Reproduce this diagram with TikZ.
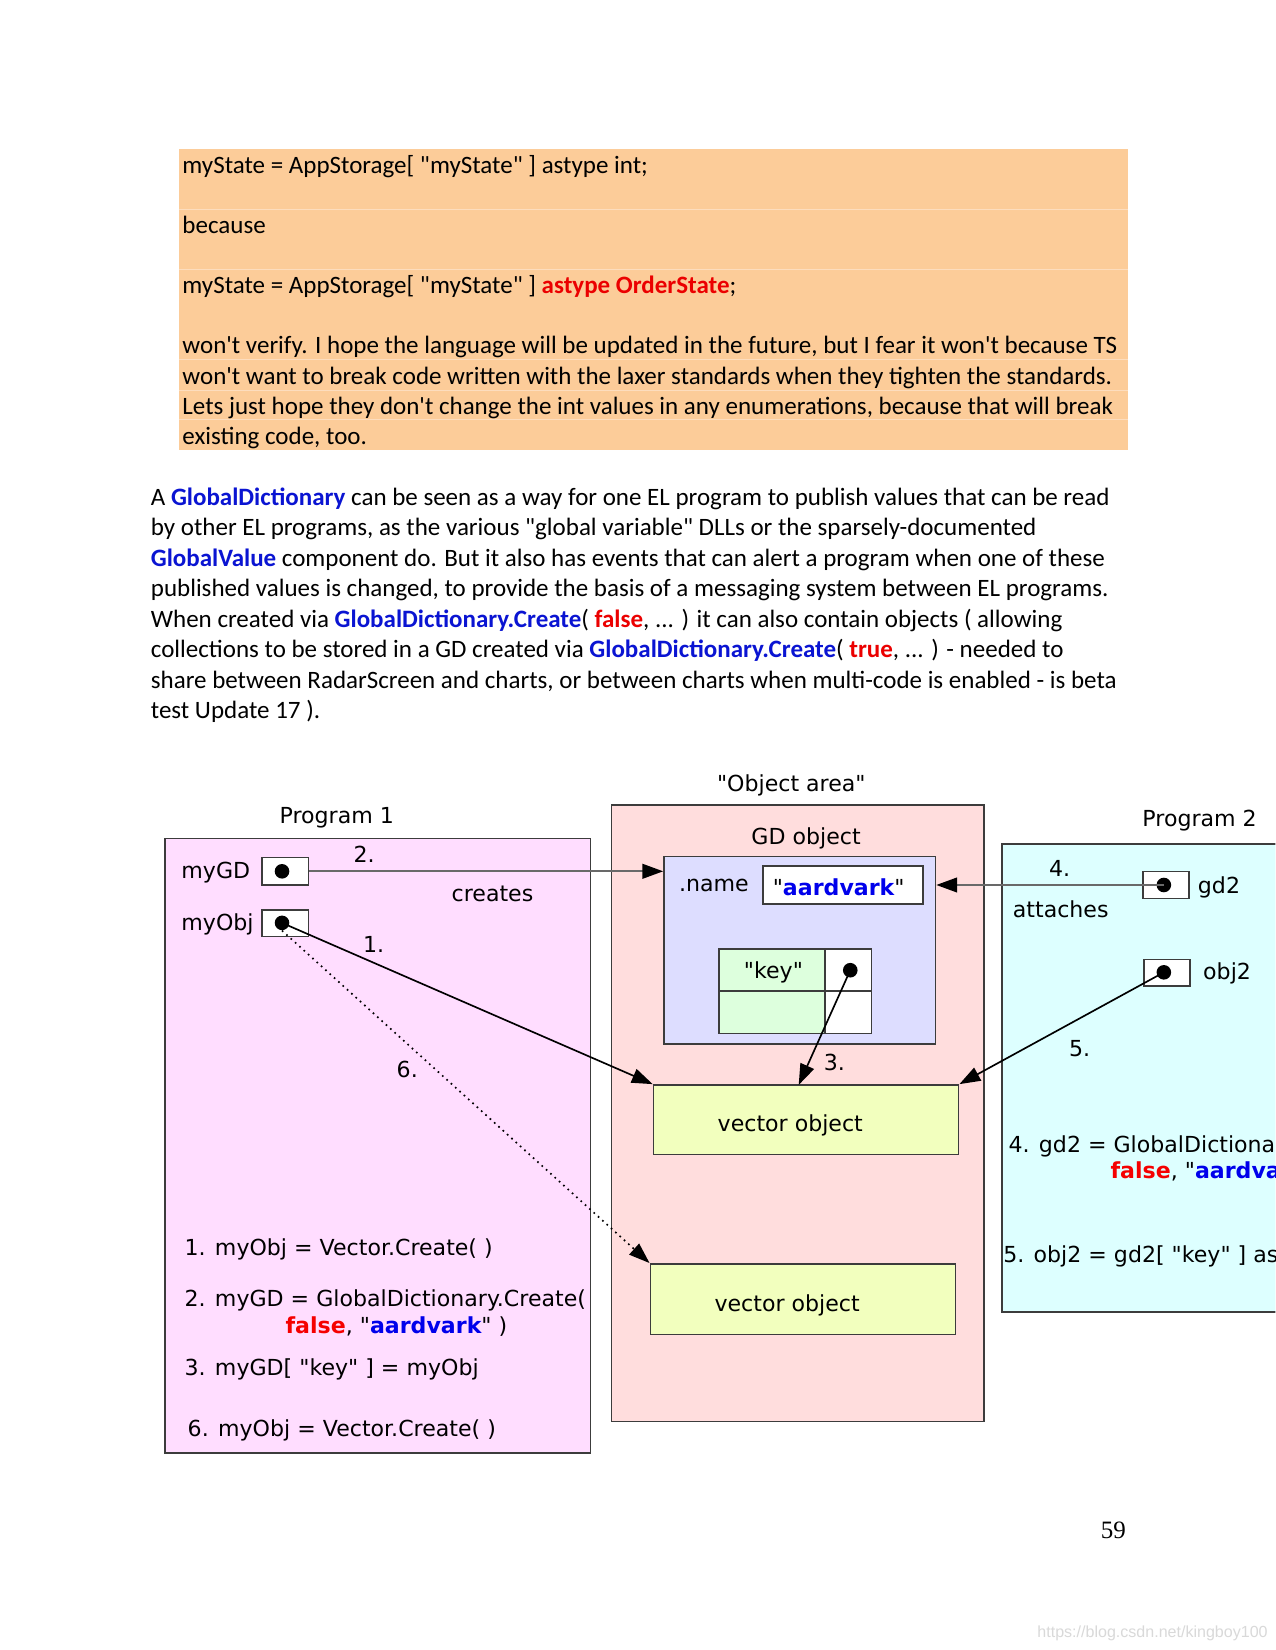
\documentclass[tikz,border=0pt]{standalone}
\usepackage{fontspec}
\defaultfontfeatures{Ligatures=TeXOff}
\setmainfont{Carlito}[Ligatures=TeXOff]
\newfontfamily\dv{DejaVu Sans}[Ligatures=TeXOff]
\newfontfamily\tms{Liberation Serif}
\newfontfamily\arl{Liberation Sans}
\usetikzlibrary{arrows.meta,fit,calc}
\definecolor{orbg}{RGB}{252,204,153}
\definecolor{orline}{RGB}{253,221,190}
\definecolor{pblue}{RGB}{10,20,210}
\definecolor{pred}{RGB}{235,0,0}
\definecolor{dblue}{RGB}{0,0,235}
\definecolor{dred}{RGB}{245,0,0}
\definecolor{p1c}{RGB}{255,221,255}
\definecolor{oac}{RGB}{255,221,221}
\definecolor{p2c}{RGB}{221,255,255}
\definecolor{gdc}{RGB}{221,221,255}
\definecolor{kc}{RGB}{221,255,221}
\definecolor{vc}{RGB}{242,255,190}
\definecolor{edge}{RGB}{60,60,60}
\definecolor{lgray}{RGB}{105,105,105}
\begin{document}
\begin{tikzpicture}[x=0.50495pt,y=-0.50495pt,
  body/.style={font=\fontsize{12}{14.4}\selectfont, inner sep=0, anchor=base west},
  dia/.style={font=\dv\fontsize{10.6}{12.7}\selectfont, inner sep=0},
  frame/.style={draw=edge, line width=0.75pt, inner sep=0},
  ptr/.style={frame, fill=white},
  dotn/.style={circle, fill=black, inner sep=0, minimum size=7pt},
  arr/.style={-{Triangle[length=10pt,width=7pt,color=black]}, line width=0.8pt, draw=black},
  arrg/.style={-{Triangle[length=10pt,width=7pt,color=black]}, line width=1.1pt, draw=lgray},
  arrd/.style={-{Triangle[length=10pt,width=7pt,color=black]}, line width=0.8pt, draw=black, dotted}]
\useasboundingbox (0,0) rectangle (1212,1568);
\clip (0,0) rectangle (1212,1568);
\fill[white] (0,0) rectangle (1212,1568);

% ---------- orange note ----------
\node[fit={(170,142)(1072,428)}, inner sep=0, fill=orbg] (note) {};
\foreach \yy in {199,256,342,371,399} \draw[orline, line width=0.4pt] (170,\yy) -- (1072,\yy);
\node[body] (n1) at (173,165) {myState = AppStorage[ "myState" ] astype int;};
\node[body] (n2) at (173,222) {because};
\node[body] (n3) at (173,279) {myState = AppStorage[ "myState" ] \textcolor{pred}{\bfseries astype OrderState};};
\node[body] (n4) at (173,336) {won't verify. I hope the language will be updated in the future, but I fear it won't because TS};
\node[body] (n5) at (173,365) {won't want to break code written with the laxer standards when they tighten the standards.};
\node[body] (n6) at (173,394) {Lets just hope they don't change the int values in any enumerations, because that will break};
\node[body] (n7) at (173,422) {existing code, too.};

% ---------- paragraph ----------
\node[body] (q1) at (143,480) {A \textcolor{pblue}{\bfseries GlobalDictionary} can be seen as a way for one EL program to publish values that can be read};
\node[body] (q2) at (143,509) {by other EL programs, as the various "global variable" DLLs or the sparsely-documented};
\node[body] (q3) at (143,538) {\textcolor{pblue}{\bfseries GlobalValue} component do. But it also has events that can alert a program when one of these};
\node[body] (q4) at (143,567) {published values is changed, to provide the basis of a messaging system between EL programs.};
\node[body] (q5) at (143,596) {When created via \textcolor{pblue}{\bfseries GlobalDictionary.Create}( \textcolor{pred}{\bfseries false}, ... ) it can also contain objects ( allowing};
\node[body] (q6) at (143,625) {collections to be stored in a GD created via \textcolor{pblue}{\bfseries GlobalDictionary.Create}( \textcolor{pred}{\bfseries true}, ... ) - needed to};
\node[body] (q7) at (143,654) {share between RadarScreen and charts, or between charts when multi-code is enabled - is beta};
\node[body] (q8) at (143,683) {test Update 17 ).};

% ---------- diagram frames ----------
\node[dia, anchor=base] (lobj) at (752,752) {"Object area"};
\node[dia, anchor=base] (lp1) at (320,783) {Program 1};
\node[dia, anchor=base] (lp2) at (1140,785) {Program 2};

\node[frame, fill=p1c, fit={(157,797)(561,1381)}] (p1) {};
\node[frame, fill=oac, fit={(581,765)(935,1351)}] (oa) {};
\node[frame, fill=p2c, fit={(952,802)(1250,1247)}] (p2) {};

% GD object
\node[dia, anchor=base] (lgd) at (766,803) {GD object};
\node[frame, fill=gdc, fit={(631,814)(889,992)}] (gd) {};
\node[dia, anchor=base west] (lname) at (645,847) {.name};
\node[ptr, fit={(725,823)(877,859)}] (nbox) {};
\node[dia, anchor=base] (nval) at (797,851) {"\textcolor{dblue}{\bfseries aardvark}"};
\node[frame, fill=kc, fit={(683,902)(784,942)}] (k1) {};
\node[frame, fill=white, fit={(784,902)(828,942)}] (k2) {};
\node[frame, fill=kc, fit={(683,942)(784,982)}] (k3) {};
\node[frame, fill=white, fit={(784,942)(828,982)}] (k4) {};
\node[dia, anchor=base] (lkey) at (735,930) {"key"};
\node[dotn] (kd) at (808,922) {};

% vector objects
\node[frame, fill=vc, fit={(621,1031)(911,1097)}] (v1) {};
\node[dia, anchor=base] (lv1) at (751,1075) {vector object};
\node[frame, fill=vc, fit={(618,1201)(908,1268)}] (v2) {};
\node[dia, anchor=base] (lv2) at (748,1246) {vector object};

% Program 1
\node[dia, anchor=base west] (lmygd) at (172,835) {myGD};
\node[ptr, fit={(249,815)(293,841)}] (gdp) {};
\node[dotn] (gdd) at (268,828) {};
\node[dia, anchor=base west] (lmyobj) at (172,884) {myObj};
\node[ptr, fit={(249,865)(293,890)}] (objp) {};
\node[dotn] (objd) at (268,877) {};

\node[dia, anchor=base] (l2) at (346,820) {2.};
\node[dia, anchor=base] (lcr) at (468,857) {creates};
\node[dia, anchor=base] (l1) at (355,905) {1.};
\node[dia, anchor=base] (l6) at (387,1024) {6.};
\node[dia, anchor=base] (l3) at (793,1017) {3.};

\node[dia, anchor=base west] (c1) at (175,1193) {1. myObj = Vector.Create( )};
\node[dia, anchor=base west] (c2) at (175,1242) {2. myGD = GlobalDictionary.Create(};
\node[dia, anchor=base west] (c2b) at (271,1267) {\textcolor{dred}{\bfseries false}, "\textcolor{dblue}{\bfseries aardvark}" )};
\node[dia, anchor=base west] (c3) at (175,1307) {3. myGD[ "key" ] = myObj};
\node[dia, anchor=base west] (c6) at (178,1365) {6. myObj = Vector.Create( )};

% Program 2
\node[ptr, fit={(1086,828)(1130,854)}] (gd2p) {};
\node[dotn] (gd2d) at (1106,841) {};
\node[dia, anchor=base west] (lgd2) at (1138,849) {gd2};
\node[ptr, fit={(1087,912)(1131,937)}] (obj2p) {};
\node[dotn] (obj2d) at (1106,924) {};
\node[dia, anchor=base west] (lobj2) at (1143,931) {obj2};
\node[dia, anchor=base] (l4) at (1007,833) {4.};
\node[dia, anchor=base] (latt) at (1008,872) {attaches};
\node[dia, anchor=base] (l5) at (1026,1004) {5.};
\node[dia, anchor=base west] (d4) at (958,1095) {4. gd2 = GlobalDictionary.Create(};
\node[dia, anchor=base west] (d4b) at (1055,1120) {\textcolor{dred}{\bfseries false}, "\textcolor{dblue}{\bfseries aardvark}" )};
\node[dia, anchor=base west] (d5) at (953,1200) {5. obj2 = gd2[ "key" ] astype Vector};

% ---------- connectors ----------
\coordinate (a3) at (759,1031);
\draw[arrg] (gdp.east) -- (gdp.east -| gd.west);
\draw[arr] (objd.center) -- (v1.north west);
\draw[arrd] (objd.south) -- (v2.north west);
\draw[arr] (kd.center) -- (a3);
\draw[arrg] (gd2d.center) -- (gd2d -| gd.east);
\draw[arr] (obj2d.center) -- (v1.north east);

% ---------- page number / watermark ----------
\node[font=\tms\fontsize{12}{14}\selectfont, inner sep=0, anchor=base] (pg) at (1058,1462) {59};
\node[font=\arl\fontsize{7.7}{9}\selectfont, inner sep=0, text=black!15, anchor=base east] (wm) at (1205,1556) {https://blog.csdn.net/kingboy100};
\end{tikzpicture}
\end{document}
